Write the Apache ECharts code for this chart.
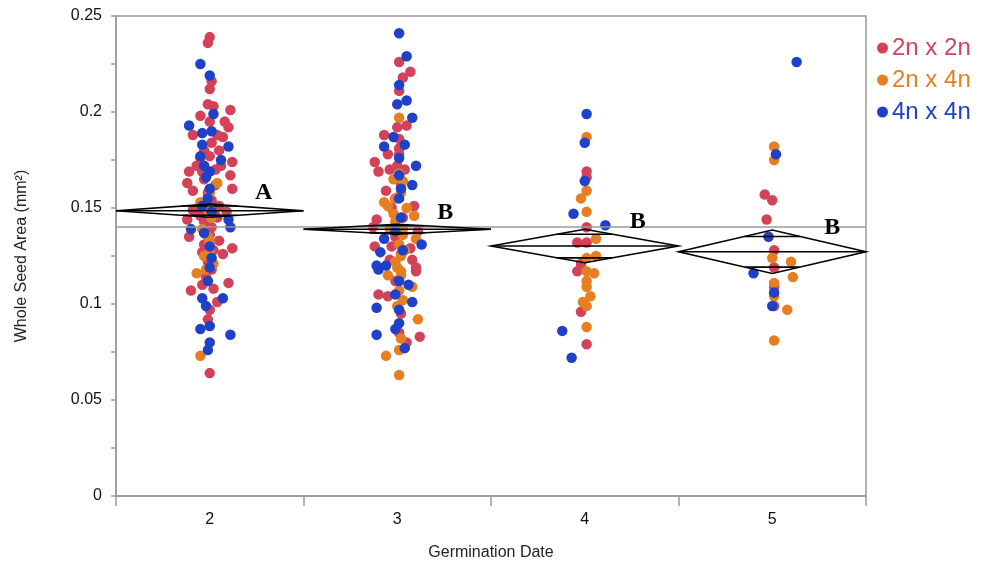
<!DOCTYPE html>
<html>
<head>
<meta charset="utf-8">
<script src="https://cdn.jsdelivr.net/npm/echarts@6/dist/echarts.min.js"></script>
<style>html,body{margin:0;padding:0;background:#fff}#c{width:984px;height:564px}</style>
</head>
<body>
<div id="c"></div>
<script>
// ---- data ----
const categories = ['2', '3', '4', '5'];
const dates = [2, 3, 4, 5];
const seriesNames = ['2n x 2n', '2n x 4n', '4n x 4n'];
const yTicks = [0, 0.05, 0.1, 0.15, 0.2, 0.25];

// points as [jitter (fraction of category width), Whole Seed Area]
const red_d2 = [[0,.239],[-.01,.236],[.01,.216],[0,.212],[-.01,.204],[.02,.203],[.11,.201],[-.05,.198],[.08,.195],[.10,.192],[-.09,.188],[.04,.188],[.07,.187],[.01,.184],[0,.177],[.12,.174],[.06,.172],[-.11,.169],[-.04,.169],[.11,.167],[-.12,.163],[-.09,.159],[.12,.160],[-.01,.158],[.01,.154],[-.09,.149],[.09,.148],[-.12,.144],[-.11,.135],[.05,.133],[.12,.129],[.07,.126],[.10,.111],[-.10,.107],[-.04,.110],[.04,.101],[0,.097],[-.01,.092],[0,.064],[-.03,.165],[.03,.162],[-.01,.156],[-.05,.146],[.03,.146],[-.03,.143],[.01,.140],[-.06,.150],[.05,.151],[0,.136],[-.03,.131],[.02,.128],[-.01,.122],[.01,.118],[-.02,.114],[.02,.108],[.04,.145],[-.04,.127],[0,.195],[-.03,.180],[.03,.170],[-.05,.176],[-.07,.172],[.05,.180]];
const red_d3 = [[.01,.226],[.07,.221],[.03,.218],[.01,.211],[.05,.193],[0,.192],[-.07,.188],[.01,.186],[.01,.181],[-.05,.178],[-.12,.174],[0,.172],[-.10,.169],[-.04,.170],[-.06,.159],[.09,.151],[-.11,.144],[-.13,.140],[.11,.138],[-.12,.130],[-.03,.130],[.07,.129],[-.04,.123],[.08,.123],[.10,.119],[.10,.117],[-.10,.105],[-.05,.104],[.01,.085],[.12,.083],[.05,.080],[.02,.162],[-.01,.155],[.03,.145],[-.01,.135],[.02,.126],[-.01,.112],[.02,.095],[.01,.178],[.04,.170],[-.03,.150]];
const red_d4 = [[.01,.169],[.01,.166],[.01,.140],[-.04,.132],[.01,.132],[-.02,.121],[-.04,.117],[-.02,.096],[.01,.079]];
const red_d5 = [[-.04,.157],[0,.154],[-.03,.144],[.01,.128],[.01,.119],[.01,.109],[.01,.099]];

const orange_d2 = [[.04,.163],[-.05,.153],[0,.148],[-.04,.139],[-.03,.125],[-.07,.116],[-.05,.073],[.01,.145],[-.01,.135],[0,.128],[.02,.121],[-.02,.118],[0,.132],[0,.158]];
const orange_d3 = [[.01,.197],[.01,.168],[-.02,.165],[.03,.164],[.02,.158],[-.07,.153],[-.05,.151],[.05,.150],[-.02,.147],[.09,.146],[-.04,.139],[.03,.139],[.10,.134],[.02,.125],[0,.119],[-.05,.115],[.02,.115],[.08,.109],[0,.099],[.11,.092],[.02,.082],[.01,.076],[-.06,.073],[.01,.063],[-.01,.143],[.03,.136],[.01,.131],[-.01,.122],[.02,.117],[.01,.107],[.03,.102],[-.01,.155],[.02,.160],[.04,.128]];
const orange_d4 = [[.01,.187],[.01,.159],[-.02,.155],[.01,.148],[.06,.134],[.06,.125],[.01,.124],[.01,.117],[.05,.116],[.01,.112],[.01,.109],[.03,.104],[-.01,.101],[.01,.099],[.01,.088]];
const orange_d5 = [[.01,.182],[.01,.175],[0,.124],[.10,.122],[.11,.114],[.01,.111],[.01,.104],[.08,.097],[.01,.081]];

const blue_d2 = [[-.05,.225],[0,.219],[.02,.199],[-.11,.193],[-.04,.189],[-.04,.183],[.10,.182],[-.05,.177],[.06,.175],[0,.169],[-.04,.151],[.10,.144],[.11,.140],[-.10,.139],[0,.119],[-.04,.103],[.07,.103],[-.02,.099],[-.05,.087],[0,.0885],[.11,.084],[0,.080],[-.01,.076],[0,.160],[-.01,.155],[.01,.148],[-.03,.137],[0,.130],[.01,.124],[-.01,.112],[-.02,.166],[.01,.190],[-.03,.172]];
const blue_d3 = [[.01,.241],[.05,.229],[.01,.214],[.05,.206],[0,.204],[.08,.197],[-.02,.187],[.04,.183],[-.07,.182],[.01,.176],[.10,.172],[.08,.162],[-.07,.134],[.13,.131],[-.09,.127],[-.11,.120],[-.10,.118],[-.06,.120],[.06,.110],[-.11,.098],[.08,.101],[.01,.097],[.01,.090],[-.01,.087],[-.11,.084],[.04,.077],[.01,.155],[.02,.145],[-.01,.138],[.03,.128],[.01,.112],[-.01,.105],[.02,.160],[.01,.167]];
const blue_d4 = [[.01,.199],[0,.184],[0,.164],[-.06,.147],[.11,.141],[-.12,.086],[-.07,.072]];
const blue_d5 = [[.13,.226],[.02,.178],[-.02,.135],[-.10,.116],[.01,.106],[0,.099]];

// group means and 95% CI half-widths (means diamonds), grand mean, letters
const groupMeans = [0.1486, 0.1389, 0.1302, 0.1272];
const groupHalfCI = [0.0034, 0.0026, 0.0087, 0.0113];
const grandMean = 0.1414;
const groupLetters = ['A', 'B', 'B', 'B'];

// ---- styles ----
const colors = ['#D2435A', '#E67E22', '#1E41C8'];
const FONT = "'Liberation Sans', Arial, sans-serif";
const AXIS_GRAY = '#9a9a9a';
const letterShift = [[54, -18], [48, -17], [53, -24], [60, -24]]; // px offsets of letter labels

function build(groups) {
  const out = [];
  groups.forEach((pts, i) => pts.forEach(p => out.push([dates[i] + p[0], p[1]])));
  return out;
}
const seriesData = [
  build([red_d2, red_d3, red_d4, red_d5]),
  build([orange_d2, orange_d3, orange_d4, orange_d5]),
  build([blue_d2, blue_d3, blue_d4, blue_d5])
];

const diamondData = dates.map((d, i) => [d, groupMeans[i], groupHalfCI[i], i]);

const chart = echarts.init(document.getElementById('c'), null, {renderer: 'canvas'});
const option = {
  animation: false,
  backgroundColor: '#fff',
  grid: {left: 116, right: 118, top: 16, bottom: 68, show: true, borderColor: AXIS_GRAY, borderWidth: 1.5,
    containLabel: false, outerBoundsMode: 'none'},
  legend: {
    orient: 'vertical', left: 872, top: 31, itemGap: 8,
    icon: 'circle', itemWidth: 11, itemHeight: 11,
    textStyle: {fontFamily: FONT, fontSize: 24, padding: [0, 0, 0, -1]},
    data: seriesNames.map((n, i) => ({name: n, textStyle: {color: colors[i]}}))
  },
  xAxis: [
    {
      type: 'category', data: categories, gridIndex: 0,
      boundaryGap: true,
      name: 'Germination Date', nameLocation: 'middle', nameGap: 49,
      nameTextStyle: {fontFamily: FONT, fontSize: 16, color: '#222'},
      axisLine: {lineStyle: {color: AXIS_GRAY, width: 1.5}},
      axisTick: {show: true, length: 10, lineStyle: {color: AXIS_GRAY, width: 1.5}},
      axisLabel: {fontFamily: FONT, fontSize: 16, color: '#111', margin: 16},
      splitLine: {show: false}
    },
    {
      type: 'value', min: 1.5, max: 5.5, show: false, gridIndex: 0
    }
  ],
  yAxis: {
    type: 'value', min: 0, max: 0.25, interval: 0.05,
    name: 'Whole Seed Area (mm²)', nameLocation: 'middle', nameGap: 86,
    nameTextStyle: {fontFamily: FONT, fontSize: 16, color: '#222'},
    axisLine: {show: true, lineStyle: {color: AXIS_GRAY, width: 1.5}},
    axisTick: {show: true, length: 5, lineStyle: {color: AXIS_GRAY, width: 1.5}},
    minorTick: {show: true, splitNumber: 2, length: 5, lineStyle: {color: AXIS_GRAY, width: 1.5}},
    axisLabel: {fontFamily: FONT, fontSize: 16, color: '#111', margin: 14,
      formatter: v => { const t = yTicks.find(x => Math.abs(x - v) < 1e-9); return t === undefined ? '' : String(t); }},
    splitLine: {show: false}
  },
  series: [
    ...seriesNames.map((n, i) => ({
      name: n, type: 'scatter', xAxisIndex: 1, yAxisIndex: 0,
      symbol: 'circle', symbolSize: 10.5,
      itemStyle: {color: colors[i], opacity: 1},
      data: seriesData[i],
      z: 3
    })),
    {
      name: 'grandMean', type: 'line', xAxisIndex: 1, data: [], z: 2,
      markLine: {
        silent: true, symbol: 'none', label: {show: false},
        lineStyle: {color: AXIS_GRAY, width: 1.5, type: 'solid'},
        data: [{yAxis: grandMean}]
      }
    },
    {
      name: 'diamonds', type: 'custom', xAxisIndex: 1, yAxisIndex: 0, z: 5,
      silent: true,
      data: diamondData,
      renderItem: function (params, api) {
        const x = api.value(0), m = api.value(1), h = api.value(2), idx = api.value(3);
        const L = api.coord([x - 0.5, m]);
        const R = api.coord([x + 0.5, m]);
        const T = api.coord([x, m + h]);
        const B = api.coord([x, m - h]);
        const o = h / Math.SQRT2;
        const w = 0.5 * (1 - o / h);
        const oT1 = api.coord([x - w, m + o]), oT2 = api.coord([x + w, m + o]);
        const oB1 = api.coord([x - w, m - o]), oB2 = api.coord([x + w, m - o]);
        const st = {stroke: '#000', lineWidth: 1.6, fill: null};
        const C = api.coord([x, m]);
        const sh = letterShift[idx];
        return {
          type: 'group',
          children: [
            {type: 'polygon', shape: {points: [L, T, R, B]}, style: st},
            {type: 'line', shape: {x1: L[0], y1: L[1], x2: R[0], y2: R[1]}, style: st},
            {type: 'line', shape: {x1: oT1[0], y1: oT1[1], x2: oT2[0], y2: oT2[1]}, style: st},
            {type: 'line', shape: {x1: oB1[0], y1: oB1[1], x2: oB2[0], y2: oB2[1]}, style: st},
            {type: 'text', x: C[0] + sh[0], y: C[1] + sh[1],
              style: {text: groupLetters[idx], fill: '#000', font: "bold 24px 'Liberation Serif', 'Times New Roman', serif", textAlign: 'center', textVerticalAlign: 'middle'}}
          ]
        };
      }
    }
  ]
};
chart.setOption(option);
</script>
</body>
</html>
